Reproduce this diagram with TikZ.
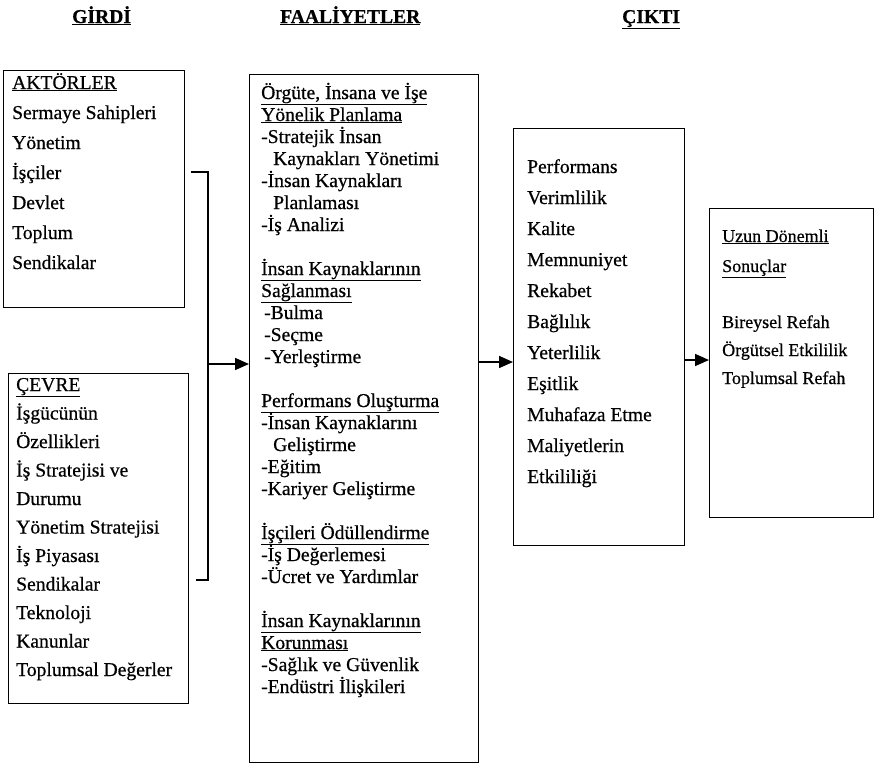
\documentclass[tikz,border=0pt]{standalone}
\usepackage{fontspec}
\setmainfont{Liberation Serif}[FakeBold=0.6]
\usetikzlibrary{arrows.meta}

\begin{document}
\begin{tikzpicture}[x=1pt,y=-1pt,
    bx/.style={draw=black,line width=1.2pt,rectangle,anchor=north west,inner sep=0pt},
    txt/.style={anchor=base west,inner sep=0pt,font=\fontsize{19.6}{22}\selectfont},
    txts/.style={anchor=base west,inner sep=0pt,font=\fontsize{18}{20}\selectfont},
    hd/.style={anchor=base west,inner sep=0pt,font=\fontsize{19.6}{22}\selectfont\bfseries},
    arr/.style={line width=1.5pt,-{Triangle[length=14pt,width=12pt]}}]
    \useasboundingbox (0,0) rectangle (881,764);
    % column titles
    \node[hd] (girdi) at (72,23) {\underline{GİRDİ}};
    \node[hd] (faaliyet) at (280,23) {\underline{FAALİYETLER}};
    \node[hd] (cikti) at (622,23) {\underline{ÇIKTI}};
    % boxes
    \node[bx,minimum width=181pt,minimum height=237pt] (akt) at (3,70) {};
    \node[bx,minimum width=180pt,minimum height=330pt] (cevre) at (8,373) {};
    \node[bx,minimum width=229pt,minimum height=688pt] (faal) at (249,74) {};
    \node[bx,minimum width=171pt,minimum height=417pt] (sonuc) at (513,128) {};
    \node[bx,minimum width=164pt,minimum height=309pt] (uzun) at (709,208) {};
    % inputs
    \foreach \t [count=\i from 0] in {\underline{AKTÖRLER},Sermaye Sahipleri,Yönetim,İşçiler,Devlet,Toplum,Sendikalar}
        \node[txt] (ak\i) at (12,89+30*\i) {\t};
    \foreach \t [count=\i from 0] in {\underline{ÇEVRE},İşgücünün,Özellikleri,İş Stratejisi ve,Durumu,Yönetim Stratejisi,İş Piyasası,Sendikalar,Teknoloji,Kanunlar,Toplumsal Değerler}
        \node[txt] (cv\i) at (16,391+28.5*\i) {\t};
    % activities
    \foreach \y/\t in {0/{\underline{Örgüte, İnsana ve İşe}},1/\underline{Yönelik Planlama},
        2/-Stratejik İnsan,3/\hspace{12pt}Kaynakları Yönetimi,4/-İnsan Kaynakları,
        5/\hspace{12pt}Planlaması,6/-İş Analizi,
        8/\underline{İnsan Kaynaklarının},9/\underline{Sağlanması},
        10/\hspace{3pt}-Bulma,11/\hspace{3pt}-Seçme,12/\hspace{3pt}-Yerleştirme,
        14/\underline{Performans Oluşturma},15/-İnsan Kaynaklarını,16/\hspace{12pt}Geliştirme,
        17/-Eğitim,18/-Kariyer Geliştirme,
        20/\underline{İşçileri Ödüllendirme},21/-İş Değerlemesi,22/-Ücret ve Yardımlar,
        24/\underline{İnsan Kaynaklarının},25/\underline{Korunması},
        26/-Sağlık ve Güvenlik,27/-Endüstri İlişkileri}
        \node[txt] (fa\y) at (261,99+22*\y) {\t};
    % outputs
    \foreach \t [count=\i from 0] in {Performans,Verimlilik,Kalite,Memnuniyet,Rekabet,Bağlılık,Yeterlilik,Eşitlik,Muhafaza Etme,Maliyetlerin,Etkililiği}
        \node[txt] (so\i) at (527,173+31*\i) {\t};
    \node[txts] (uz1) at (722,242) {\underline{Uzun Dönemli}};
    \node[txts] (uz2) at (722,272) {\underline{Sonuçlar}};
    \node[txts] (uz3) at (722,328) {Bireysel Refah};
    \node[txts] (uz4) at (722,356) {Örgütsel Etkililik};
    \node[txts] (uz5) at (722,384) {Toplumsal Refah};
    % bracket and arrows
    \coordinate (bt) at (191,172);
    \coordinate (brk) at (208,364);
    \coordinate (bb) at (196,580);
    \draw[line width=1.5pt] (bt) -| (brk) |- (bb);
    \draw[arr] (brk) -- (brk -| faal.west);
    \coordinate (a2) at (0,362);
    \draw[arr] (a2 -| faal.east) -- (a2 -| sonuc.west);
    \coordinate (a3) at (0,360);
    \draw[arr] (a3 -| sonuc.east) -- (a3 -| uzun.west);
\end{tikzpicture}
\end{document}
